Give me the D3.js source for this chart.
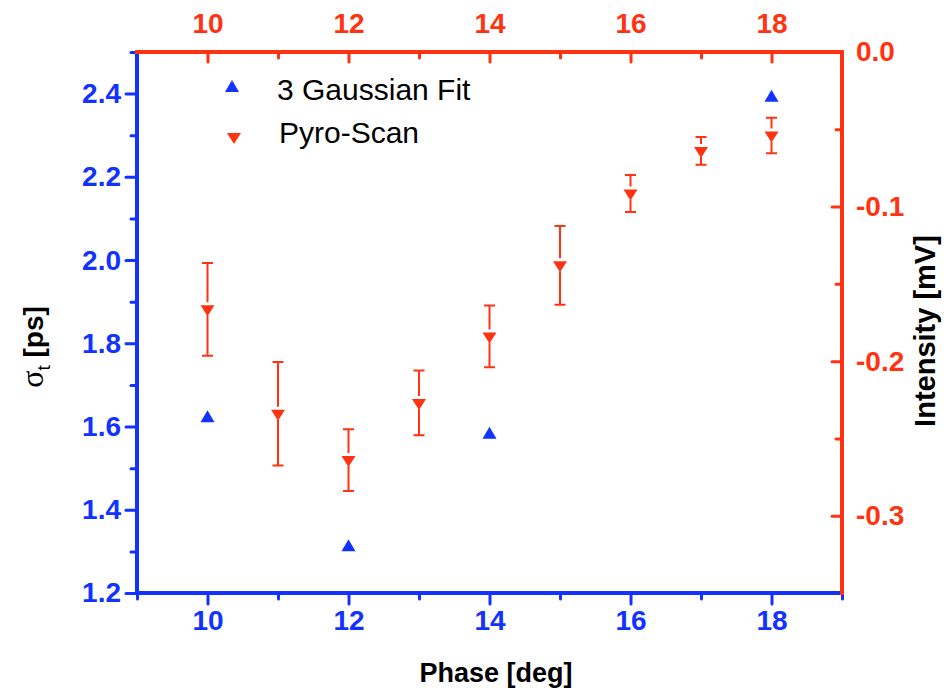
<!DOCTYPE html>
<html>
<head>
<meta charset="utf-8">
<script src="https://cdn.jsdelivr.net/npm/d3@7"></script>
<style>
  body { margin: 0; background: #fff; }
  svg { display: block; }
</style>
</head>
<body>
<div id="chart"></div>
<script>
// data
const phase = [10, 11, 12, 13, 14, 15, 16, 17, 18];
const intensity = [-0.1665, -0.234, -0.264, -0.227, -0.184, -0.138, -0.0915, -0.064, -0.054];
const intensityErr = [0.030, 0.0335, 0.020, 0.021, 0.020, 0.0255, 0.012, 0.009, 0.0115];
const fitPhase = [10, 12, 14, 18];
const fitSigma = [1.62, 1.31, 1.58, 2.39];

// tick values
const xMajor = [10, 12, 14, 16, 18];
const xMinor = [9, 11, 13, 15, 17, 19];
const sigmaMajor = [1.2, 1.4, 1.6, 1.8, 2.0, 2.2, 2.4];
const sigmaMinor = [1.3, 1.5, 1.7, 1.9, 2.1, 2.3, 2.5];
const intMajor = [0, -0.1, -0.2, -0.3];
const intMinor = [-0.05, -0.15, -0.25, -0.35];

const blue = '#1232ff';
const red = '#ff3311';
const font = '"Liberation Sans", Arial, Helvetica, sans-serif';

const width = 949, height = 691;
const m = {left: 137, right: 107, top: 52, bottom: 98};

const svg = d3.select('#chart').append('svg')
    .attr('width', width)
    .attr('height', height);

const x = d3.scaleLinear([9, 19], [m.left, width - m.right]);
const yL = d3.scaleLinear([1.2, 2.5], [height - m.bottom, m.top]);
const yR = d3.scaleLinear([-0.35, 0], [height - m.bottom, m.top]);

const fmt1 = d => d3.format('.1f')(d).replace('\u2212', '-');
const fmtInt = d3.format('d');

// draw one axis (major with labels + minor without)
function drawAxis(make, scale, major, minor, bigTick, smallTick, pad, fmt, color, tx, ty) {
    const g = svg.append('g').attr('transform', `translate(${tx},${ty})`);
    g.append('g').call(make(scale).tickValues(minor).tickSize(smallTick).tickFormat(''));
    g.append('g').call(make(scale).tickValues(major).tickSize(bigTick).tickPadding(pad).tickFormat(fmt));
    g.selectAll('.domain').remove();
    g.selectAll('line').attr('stroke', color).attr('stroke-width', 3).attr('stroke-linecap', 'round');
    g.selectAll('text')
        .attr('fill', color)
        .style('font-family', font)
        .style('font-size', '28px')
        .style('font-weight', 'bold');
    return g;
}

drawAxis(d3.axisLeft, yL, sigmaMajor, sigmaMinor, 11, 6, 5, fmt1, blue, m.left, 0);
drawAxis(d3.axisBottom, x, xMajor, xMinor, 11, 6, 6, fmtInt, blue, 0, height - m.bottom);
drawAxis(d3.axisTop, x, xMajor, xMinor, -10, -6, 19, fmtInt, red, 0, m.top);
drawAxis(d3.axisRight, yR, intMajor, intMinor, -10, -6, 14, fmt1, red, width - m.right, 0);

// frame
const frame = svg.append('g').attr('stroke-width', 4).attr('stroke-linecap', 'square');
frame.append('line').attr('x1', m.left).attr('x2', m.left).attr('y1', m.top).attr('y2', height - m.bottom).attr('stroke', blue);
frame.append('line').attr('x1', m.left).attr('x2', width - m.right).attr('y1', height - m.bottom).attr('y2', height - m.bottom).attr('stroke', blue);
frame.append('line').attr('x1', m.left).attr('x2', width - m.right).attr('y1', m.top).attr('y2', m.top).attr('stroke', red);
frame.append('line').attr('x1', width - m.right).attr('x2', width - m.right).attr('y1', m.top).attr('y2', height - m.bottom).attr('stroke', red);

const upTri = 'M0,-8L7,4L-7,4Z';
const downTri = 'M0,7L7,-4L-7,-4Z';

// pyro-scan error bars
const pyro = phase.map((p, i) => ({p, v: intensity[i], e: intensityErr[i]}));
const eb = svg.append('g').attr('stroke', red).attr('stroke-width', 2).attr('fill', 'none');
eb.selectAll('path')
    .data(pyro)
    .join('path')
    .attr('d', d => {
        const cx = x(d.p), cy = yR(d.v), t = yR(d.v + d.e), b = yR(d.v - d.e);
        return `M${cx - 5.5},${t}H${cx + 5.5}M${cx},${t}V${cy - 7}` +
            `M${cx},${cy + 6}V${b}M${cx - 5.5},${b}H${cx + 5.5}`;
    });

svg.append('g').selectAll('path')
    .data(pyro)
    .join('path')
    .attr('transform', d => `translate(${x(d.p)},${yR(d.v)})`)
    .attr('d', downTri)
    .attr('fill', red);

// gaussian fit points
svg.append('g').selectAll('path')
    .data(fitPhase.map((p, i) => ({p, v: fitSigma[i]})))
    .join('path')
    .attr('transform', d => `translate(${x(d.p)},${yL(d.v)})`)
    .attr('d', upTri)
    .attr('fill', blue);

// legend
const leg = svg.append('g').style('font-family', font).style('font-size', '30px');
leg.append('path').attr('transform', 'translate(232,88)').attr('d', upTri).attr('fill', blue);
leg.append('text').attr('x', 277).attr('y', 100).text('3 Gaussian Fit');
leg.append('path').attr('transform', 'translate(234,137)').attr('d', downTri).attr('fill', red);
leg.append('text').attr('x', 279).attr('y', 143).text('Pyro-Scan');

// axis titles
svg.append('text')
    .attr('x', 496).attr('y', 682)
    .attr('text-anchor', 'middle')
    .style('font-family', font).style('font-size', '27px').style('font-weight', 'bold')
    .text('Phase [deg]');

svg.append('text')
    .attr('transform', 'translate(935,331) rotate(-90)')
    .attr('text-anchor', 'middle')
    .style('font-family', font).style('font-size', '29px').style('font-weight', 'bold')
    .text('Intensity [mV]');

const yt = svg.append('text')
    .attr('transform', 'translate(43,347) rotate(-90)')
    .attr('text-anchor', 'middle')
    .style('font-family', font).style('font-size', '28px');
yt.append('tspan').style('font-family', '"Liberation Serif", "DejaVu Serif", serif').style('font-size', '32px').text('\u03c3');
yt.append('tspan').attr('dy', 7).style('font-size', '19px').text('t');
yt.append('tspan').attr('dy', -7).style('font-weight', 'bold').text(' [ps]');
</script>
</body>
</html>
